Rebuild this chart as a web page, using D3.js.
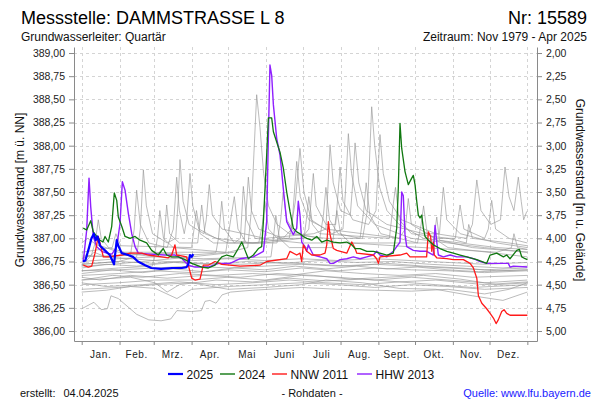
<!DOCTYPE html>
<html><head><meta charset="utf-8">
<script src="https://cdn.jsdelivr.net/npm/d3@7"></script>
<style>
body{margin:0;background:#fff}
svg{display:block}
text{font-family:"Liberation Sans",Arial,sans-serif}
</style>
</head><body>
<svg id="chart" width="600" height="400"></svg>
<script>
// ---------- data ----------
const months = ["Jan.","Feb.","Mrz.","Apr.","Mai","Juni","Juli","Aug.","Sept.","Okt.","Nov.","Dez."];
const monthStartDays = [0,31,59,90,120,151,181,212,243,273,304,334,365];
const leftTicks = [386.00,386.25,386.50,386.75,387.00,387.25,387.50,387.75,388.00,388.25,388.50,388.75,389.00];
const rightTicks = [2.00,2.25,2.50,2.75,3.00,3.25,3.50,3.75,4.00,4.25,4.50,4.75,5.00];
const groundLevel = 391.00;

// [day of year, level m ü. NN]
const data2025 = [[1,386.75],[3,386.76],[6,386.90],[8,387.00],[10,387.05],[11.5,386.98],[13,387.02],[15,386.92],[19,386.87],[23,386.82],[26.5,386.72],[28.7,386.98],[30,386.92],[32.8,386.84],[38,386.82],[42,386.80],[46,386.75],[52,386.71],[57,386.68],[65,386.67],[74,386.68],[82,386.68],[86,386.69],[87.3,386.72],[88.7,386.82],[90,386.80],[91.4,386.83]];

const data2024 = [[1.3,387.11],[4.1,387.09],[7.4,387.19],[9.5,387.07],[12.3,387.02],[15,386.98],[17.4,386.96],[19.1,387.02],[21.8,386.96],[24.6,387.13],[26.7,387.49],[28.7,387.41],[30,387.23],[32.8,387.13],[35.5,387.02],[39.6,387.00],[43.7,387.02],[47.8,386.98],[53.2,386.95],[57.3,386.87],[62.7,386.82],[66.8,386.89],[69.6,386.82],[73.7,386.80],[79.1,386.80],[84.6,386.77],[90.1,386.73],[98.3,386.69],[103.7,386.68],[109.2,386.71],[114.7,386.80],[118.8,386.82],[124.2,386.80],[128.3,386.89],[131.1,386.96],[133.8,386.87],[136.5,386.78],[140.6,386.82],[144.7,386.89],[147.4,386.91],[148.8,387.18],[151.5,387.90],[152.9,388.30],[155.6,388.30],[157,388.15],[159.7,388.04],[162.4,387.93],[165.1,387.76],[167.9,387.50],[170.6,387.29],[173.3,387.11],[176.1,387.07],[178.8,387.05],[181.5,387.02],[184.3,387.00],[188.4,386.98],[192.5,387.02],[196.6,386.96],[200.7,386.98],[206.1,386.96],[211.6,386.95],[217.1,386.96],[221.2,386.93],[223.9,386.89],[228,386.89],[233.5,386.86],[238.9,386.86],[244.3,386.84],[249.8,386.82],[255.2,386.84],[258,387.11],[259.3,387.54],[260.7,388.24],[262.1,387.97],[264.8,387.72],[267.5,387.58],[270.3,387.65],[271.6,387.68],[273,387.58],[274.4,387.40],[275.7,387.25],[277.1,387.22],[278.5,387.25],[279.8,387.11],[281.2,387.02],[283.9,386.98],[288,386.93],[293.5,386.89],[299,386.86],[304.4,386.84],[309.9,386.82],[315.4,386.80],[323.6,386.77],[331.7,386.73],[334.5,386.82],[339.9,386.84],[345.4,386.80],[348.1,386.82],[350.8,386.78],[356.3,386.87],[358.5,386.88],[360.4,386.80],[363.2,386.78],[365,386.77]];

const dataNNW2011 = [[1.3,386.71],[5.4,386.69],[8.2,386.70],[10.9,386.84],[13.6,387.02],[15,386.95],[17.7,386.80],[21.8,386.80],[32.8,386.82],[39.6,386.84],[49.1,386.84],[54.6,386.82],[65.5,386.80],[70.9,386.79],[73.7,386.82],[76.4,386.93],[77.8,386.82],[86,386.80],[87.3,386.71],[88.7,386.64],[90.1,386.57],[92.8,386.55],[96.9,386.56],[98.3,386.64],[99.6,386.71],[103.7,386.71],[109.2,386.75],[114.7,386.72],[129.7,386.70],[146,386.71],[151.5,386.75],[167.9,386.78],[170.6,386.86],[176.1,386.82],[178.8,386.84],[180.2,386.75],[181.5,386.93],[184.3,386.86],[188.4,386.82],[195.2,386.82],[199.3,386.84],[200.7,386.93],[202,387.18],[203.4,387.04],[206.1,386.89],[208.9,386.87],[217.1,386.84],[221.2,386.96],[223.9,386.89],[225.3,386.84],[238.9,386.82],[241.6,386.78],[243,386.73],[244.3,386.80],[260.7,386.82],[266.2,386.84],[268.9,386.80],[282.5,386.80],[283.9,387.07],[285.8,387.02],[286.7,386.86],[288,386.96],[288.8,386.82],[290.8,386.79],[299,386.78],[304.4,386.77],[312.6,386.77],[318.1,386.73],[320.8,386.68],[323.6,386.57],[324.9,386.38],[327.7,386.30],[331.7,386.24],[334.5,386.19],[337.2,386.14],[339.4,386.08],[341.2,386.12],[344,386.21],[345.9,386.23],[348.1,386.19],[350.8,386.17],[365,386.17]];

const dataHHW2013 = [[1.3,386.75],[4.1,387.09],[6,387.65],[7.4,387.34],[9.5,387.02],[12.3,386.91],[16.4,386.86],[20.5,386.84],[24.8,386.83],[28.7,386.91],[31.4,387.16],[33.3,387.61],[35.5,387.52],[38.2,387.27],[41,387.05],[43.7,386.91],[46.4,386.84],[56,386.83],[68.2,386.82],[76.4,386.82],[82.2,386.78],[87.3,386.71],[92.8,386.69],[103.7,386.69],[111.9,386.73],[121.5,386.73],[129.7,386.78],[140.6,386.80],[148.8,386.86],[151.5,387.18],[152.9,388.10],[154.2,388.87],[155.6,388.76],[157,388.44],[159.7,388.08],[162.4,387.90],[163.8,387.72],[165.1,387.54],[167.9,387.18],[170.6,387.11],[173.3,387.04],[176.1,387.11],[177.4,387.40],[178.8,387.25],[180.2,386.96],[182.9,386.91],[184.3,386.86],[185.6,386.93],[187,386.89],[189.7,386.82],[195.2,386.80],[200.7,386.78],[203.4,386.73],[206.1,386.73],[211.6,386.77],[217.1,386.78],[222.5,386.80],[228,386.78],[233.5,386.80],[238.9,386.82],[241.6,386.86],[244.3,386.82],[249.8,386.80],[255.2,386.86],[258,386.91],[260.7,386.96],[262.1,387.50],[263.4,387.46],[264.8,387.04],[266.2,386.91],[271.6,386.87],[277.1,386.86],[282.5,386.86],[288,386.82],[289.4,387.14],[290.8,386.96],[292.1,386.82],[296.2,386.80],[301.8,386.82],[307.2,386.80],[315.4,386.80],[320.8,386.78],[326.3,386.75],[331.7,386.73],[349.4,386.73],[350.8,386.69],[353.5,386.70],[365,386.69]];

// historical years 1980 - 2023 (selection, grey)
const historicalYears = [
 [[0,386.78],[8,386.82],[11,386.95],[13.6,387.20],[16,387.0],[22,386.9],[35,386.85],[60,386.85],[90,386.82],[120,386.85],[136,386.9],[139,387.3],[141,387.9],[143.3,388.55],[146,388.2],[149,387.7],[153,387.35],[160,387.15],[170,387.05],[200,387.0],[230,387.0],[234,387.3],[237.5,388.42],[240,388.0],[244,387.55],[250,387.3],[260,387.15],[280,387.0],[310,386.95],[340,386.9],[365,386.88]],
 [[0,386.82],[20,386.8],[40,386.82],[43,387.1],[45,387.52],[48,387.15],[55,386.95],[70,386.9],[75,387.1],[77.8,387.66],[80,387.3],[84,387.05],[86,387.2],[88.7,387.70],[91,387.35],[96,387.1],[110,387.0],[140,386.95],[170,387.0],[175,387.4],[178.8,387.97],[182,387.5],[188,387.2],[205,387.05],[214,387.1],[216,387.5],[218.4,388.13],[221,387.7],[226,387.35],[240,387.15],[270,387.0],[300,386.95],[330,386.9],[365,386.85]],
 [[0,386.72],[30,386.75],[45,386.8],[48,387.1],[50.5,387.74],[53,387.35],[58,387.05],[70,386.95],[77,387.0],[79,387.4],[80.5,387.85],[83,387.4],[88,387.15],[100,387.05],[102,387.2],[104.5,387.58],[107,387.25],[115,387.1],[150,387.0],[190,387.05],[200,387.1],[203.4,388.01],[206,387.6],[212,387.3],[220,387.25],[222,387.6],[223.9,388.03],[227,387.6],[233,387.3],[250,387.15],[280,387.05],[293,387.05],[296.2,387.55],[299,387.2],[310,387.05],[340,386.95],[365,386.9]],
 [[0,386.75],[30,386.78],[60,386.8],[67,386.9],[69.6,387.36],[72,387.05],[80,386.95],[95,386.95],[98.3,387.36],[101,387.05],[120,386.95],[150,386.95],[180,387.0],[186,387.1],[189.7,387.70],[192,387.35],[200,387.15],[208,387.15],[211.6,387.77],[214,387.4],[222,387.2],[235,387.15],[241,387.3],[244.3,388.12],[247,387.7],[252,387.4],[262,387.2],[290,387.05],[315,387.0],[320,387.15],[323.6,387.63],[327,387.3],[335,387.15],[343,387.2],[346.7,387.77],[350,387.45],[354,387.3],[357.6,387.66],[360,387.4],[362,387.2],[364.5,387.29]],
 [[0,386.7],[25,386.72],[50,386.75],[90,386.8],[125,386.85],[133,386.95],[136.5,387.66],[139,387.3],[145,387.1],[165,387.0],[172,387.1],[176.1,387.83],[179,387.45],[186,387.2],[200,387.1],[230,387.05],[260,387.0],[265,387.1],[267.5,387.43],[270,387.15],[290,387.0],[306,387.0],[309.9,387.36],[313,387.1],[330,387.0],[333,387.1],[335.8,387.41],[339,387.1],[350,387.0],[365,386.95]],
 [[0,386.8],[40,386.82],[80,386.85],[110,386.85],[112,387.0],[114.7,387.40],[117,387.1],[125,386.95],[130,387.0],[132.4,387.56],[135,387.2],[142,387.0],[180,386.95],[220,386.95],[260,386.95],[288,386.95],[290.8,387.23],[293,386.98],[320,386.9],[365,386.85]],
 [[0,386.65],[30,386.68],[58,386.7],[62,387.0],[64,387.3],[67,387.0],[75,386.9],[118,386.85],[122,387.2],[125,387.45],[128,387.1],[135,386.95],[160,386.95],[163,387.2],[165,387.5],[168,387.2],[175,387.05],[195,387.0],[198,387.25],[200,387.55],[203,387.2],[210,387.05],[228,387.0],[231,387.3],[233,387.6],[236,387.25],[245,387.05],[275,386.95],[278,387.15],[280,387.35],[283,387.05],[300,386.9],[365,386.8]],
 [[0,386.85],[15,386.88],[25,386.9],[28,387.05],[32,386.92],[90,386.9],[92,387.1],[94,387.3],[97,387.05],[108,386.95],[145,386.95],[148,387.15],[150,387.4],[153,387.1],[160,387.0],[182,387.0],[184,387.2],[186,387.45],[189,387.15],[195,387.05],[252,387.0],[255,387.35],[257,387.55],[260,387.2],[270,387.05],[300,387.0],[315,386.95],[317,387.15],[320,387.0],[350,386.95],[365,386.92]],
 [[0,386.95],[5,387.0],[12,386.93],[20,386.9],[30,386.85],[60,386.8],[100,386.78],[155,386.8],[157,387.0],[159,387.25],[162,387.0],[170,386.9],[205,386.9],[207,387.1],[209,387.3],[212,387.05],[220,386.95],[340,386.85],[352,386.9],[354,387.05],[357,386.9],[365,386.88]],
 [[0,386.24],[10,386.31],[16,386.23],[21,386.24],[24,386.38],[30,386.35],[45,386.18],[55,386.12],[65,386.11],[73,386.13],[78,386.22],[90,386.21],[98,386.22],[101,386.32],[105,386.33],[110,386.30],[115,386.39],[122,386.42],[140,386.44],[180,386.47],[210,386.45],[240,386.44],[270,386.43],[300,386.45],[330,386.40],[350,386.45],[365,386.52]],
 [[0,386.42],[20,386.44],[40,386.48],[60,386.46],[78,386.35],[90,386.45],[120,386.48],[150,386.5],[180,386.52],[210,386.5],[240,386.47],[270,386.5],[300,386.48],[330,386.45],[365,386.47]],
 [[0,386.45],[30,386.47],[60,386.50],[90,386.52],[120,386.45],[150,386.47],[180,386.5],[200,386.55],[230,386.52],[260,386.46],[290,386.45],[320,386.38],[345,386.33],[365,386.42]],
 [[0,386.50],[30,386.52],[60,386.55],[90,386.55],[120,386.58],[150,386.55],[180,386.6],[210,386.58],[240,386.55],[270,386.58],[300,386.55],[330,386.52],[365,386.55]],
 [[0,386.55],[25,386.6],[50,386.58],[80,386.62],[110,386.6],[140,386.62],[170,386.6],[200,386.65],[230,386.62],[260,386.6],[290,386.62],[320,386.58],[365,386.6]],
 [[0,386.60],[30,386.62],[60,386.65],[90,386.63],[120,386.66],[150,386.64],[180,386.68],[210,386.65],[240,386.68],[270,386.66],[300,386.65],[330,386.63],[365,386.65]],
 [[0,386.65],[30,386.66],[60,386.68],[90,386.7],[120,386.68],[150,386.7],[180,386.72],[210,386.7],[240,386.72],[270,386.7],[300,386.68],[330,386.66],[365,386.68]],
 [[0,386.68],[20,386.72],[45,386.7],[75,386.74],[105,386.72],[135,386.75],[165,386.73],[195,386.76],[225,386.74],[255,386.75],[285,386.72],[315,386.7],[345,386.68],[365,386.7]],
 [[0,386.58],[15,386.55],[40,386.6],[70,386.57],[100,386.6],[130,386.58],[160,386.62],[190,386.6],[220,386.56],[250,386.58],[280,386.6],[310,386.56],[340,386.5],[365,386.52]],
 [[0,386.72],[30,386.75],[60,386.73],[90,386.76],[120,386.78],[150,386.76],[180,386.78],[210,386.76],[240,386.78],[270,386.76],[300,386.74],[330,386.72],[365,386.74]],
 [[0,386.52],[20,386.48],[50,386.5],[80,386.53],[110,386.5],[140,386.52],[170,386.55],[200,386.52],[230,386.5],[260,386.53],[290,386.5],[320,386.47],[365,386.5]],
 [[0,386.62],[25,386.66],[50,386.63],[75,386.67],[100,386.64],[125,386.68],[150,386.66],[175,386.7],[200,386.67],[225,386.7],[250,386.67],[275,386.69],[300,386.66],[325,386.64],[365,386.66]],
 [[0,386.55],[40,386.58],[60,386.52],[70,386.42],[80,386.5],[110,386.55],[140,386.53],[170,386.57],[200,386.54],[230,386.56],[260,386.53],[290,386.55],[330,386.5],[365,386.53]],
 [[0,386.7],[10,386.85],[20,386.8],[40,386.78],[70,386.75],[100,386.73],[130,386.72],[160,386.74],[190,386.72],[220,386.7],[250,386.73],[280,386.7],[310,386.68],[340,386.65],[365,386.66]]
];

const seriesNames = ["2025","2024","NNW 2011","HHW 2013"];
const seriesColors = ["#0000ff","#107810","#ff1a1a","#8f1fff"];

// ---------- chart ----------
const svg = d3.select("#chart");
const fmt = v => d3.format(".2f")(v).replace(".", ",");

const x = d3.scaleLinear().domain([-6.3, 372.9]).range([74, 537]);
const y = d3.scaleLinear().domain([385.892, 389.065]).range([341, 47]);
const yR = d3.scaleLinear().domain([groundLevel - 385.892, groundLevel - 389.065]).range([341, 47]);

// grid
const grid = svg.append("g").attr("stroke", "#d4d4d4").attr("stroke-dasharray", "3,3").attr("stroke-width", 1);
grid.selectAll("line.h").data(leftTicks).join("line").attr("class","h")
  .attr("x1", 74).attr("x2", 537)
  .attr("y1", d => Math.round(y(d)) + 0.5).attr("y2", d => Math.round(y(d)) + 0.5);
grid.selectAll("line.v").data(monthStartDays).join("line").attr("class","v")
  .attr("x1", d => Math.round(x(d)) + 0.5).attr("x2", d => Math.round(x(d)) + 0.5)
  .attr("y1", 47).attr("y2", 341);

// lines
const line = d3.line().x(d => x(d[0])).y(d => y(d[1]));
const plot = svg.append("g");
plot.selectAll("path.hist").data(historicalYears).join("path").attr("class","hist")
  .attr("d", line).attr("fill","none").attr("stroke","#969696").attr("stroke-opacity",0.65).attr("stroke-width",1);

const colored = [
  {data: dataHHW2013, color: seriesColors[3], w: 1.4},
  {data: dataNNW2011, color: seriesColors[2], w: 1.3},
  {data: data2024, color: seriesColors[1], w: 1.3},
  {data: data2025, color: seriesColors[0], w: 2.2}
];
plot.selectAll("path.main").data(colored).join("path").attr("class","main")
  .attr("d", d => line(d.data)).attr("fill","none")
  .attr("stroke", d => d.color).attr("stroke-width", d => d.w).attr("stroke-linejoin","round");

// axes
function styleAxis(g) {
  g.select(".domain").attr("stroke", "#8a8a8a");
  g.selectAll(".tick line").attr("stroke", "#8a8a8a");
  g.selectAll(".tick text").attr("fill", "#222").style("font-size", "10.5px")
    .style("font-family", '"Liberation Sans", Arial, sans-serif');
}
svg.append("g").attr("transform", "translate(74,0)")
  .call(d3.axisLeft(y).tickValues(leftTicks).tickFormat(fmt).tickSize(5).tickSizeOuter(0).tickPadding(4))
  .call(styleAxis);
svg.append("g").attr("transform", "translate(537,0)")
  .call(d3.axisRight(yR).tickValues(rightTicks).tickFormat(fmt).tickSize(5).tickSizeOuter(0).tickPadding(4))
  .call(styleAxis);
svg.append("g").attr("transform", "translate(0,341)")
  .call(d3.axisBottom(x).tickValues(monthStartDays).tickFormat("").tickSize(4).tickSizeOuter(0))
  .call(styleAxis);

svg.append("g").selectAll("text").data(months).join("text")
  .attr("x", (d, i) => x((monthStartDays[i] + monthStartDays[i + 1]) / 2))
  .attr("y", 357.5).attr("text-anchor", "middle")
  .style("font-size", "10px").style("letter-spacing", "0.6px").attr("fill", "#222")
  .text(d => d);

// axis titles
svg.append("text").attr("transform", "translate(24,190) rotate(-90)").attr("text-anchor","middle")
  .style("font-size","12px").attr("fill","#111").text("Grundwasserstand [m ü. NN]");
svg.append("text").attr("transform", "translate(576,190) rotate(90)").attr("text-anchor","middle")
  .style("font-size","12px").attr("fill","#111").text("Grundwasserstand [m u. Gelände]");

// titles
svg.append("text").attr("x", 21).attr("y", 23.5).style("font-size","18px").attr("fill","#000")
  .text("Messstelle: DAMMSTRASSE L 8");
svg.append("text").attr("x", 587).attr("y", 23.5).attr("text-anchor","end").style("font-size","18px").attr("fill","#000")
  .text("Nr: 15589");
svg.append("text").attr("x", 21).attr("y", 41).style("font-size","12px").attr("fill","#111")
  .text("Grundwasserleiter: Quartär");
svg.append("text").attr("x", 587).attr("y", 41).attr("text-anchor","end").style("font-size","12px").attr("fill","#111")
  .text("Zeitraum: Nov 1979 - Apr 2025");

// legend
const legendX = [168, 220, 272, 357];
const lg = svg.append("g").selectAll("g").data(seriesNames).join("g")
  .attr("transform", (d, i) => `translate(${legendX[i]},374)`);
lg.append("line").attr("x1",0).attr("x2",15).attr("y1",0).attr("y2",0)
  .attr("stroke", (d,i) => seriesColors[i]).attr("stroke-width", (d,i) => i === 0 ? 2.2 : 1.4);
lg.append("text").attr("x", 18.5).attr("y", 4.5).style("font-size","12px").attr("fill","#111").text(d => d);

// footer
svg.append("text").attr("x", 20).attr("y", 397).style("font-size","11px").attr("fill","#111").text("erstellt:");
svg.append("text").attr("x", 63.5).attr("y", 397).style("font-size","11px").attr("fill","#111").text("04.04.2025");
svg.append("text").attr("x", 312).attr("y", 397).attr("text-anchor","middle").style("font-size","11px").attr("fill","#111").text("- Rohdaten -");
svg.append("text").attr("x", 591).attr("y", 397).attr("text-anchor","end").style("font-size","11px").attr("fill","#1a1aff").text("Quelle: www.lfu.bayern.de");
</script>
</body></html>
